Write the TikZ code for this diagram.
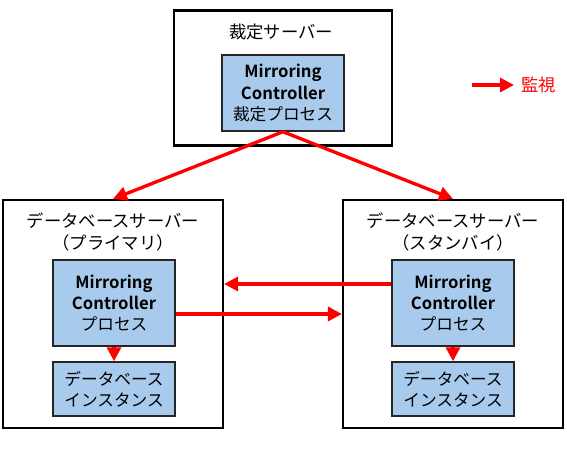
\documentclass[tikz,border=0pt]{standalone}
\usepackage{fontspec}
\setmainfont{Noto Sans CJK JP}
\newfontfamily\jpbold{Noto Sans CJK JP Bold}
\usetikzlibrary{arrows.meta}
\definecolor{procblue}{RGB}{168,202,236}
\definecolor{monred}{RGB}{255,0,0}
\tikzset{
  server/.style={draw=black, line width=1.6pt, fill=white, inner sep=0pt},
  proc/.style={draw=black!85, line width=1.1pt, fill=procblue, inner sep=0pt, align=center, font=\fontsize{12.5}{15.8}\selectfont},
  lbl/.style={align=center, font=\fontsize{13}{16}\selectfont, inner sep=0pt},
  mon/.style={draw=monred, line width=2.5pt, -{Triangle[length=10.5pt,width=10.5pt]}},
}
\begin{document}
\begin{tikzpicture}[x=0.75pt,y=-0.75pt]
\useasboundingbox (0,0) rectangle (567,452);
% servers
\node[server, minimum width=218*0.75pt, minimum height=135*0.75pt] (arb) at (283,78) {};
\node[server, minimum width=220*0.75pt, minimum height=228*0.75pt] (prim) at (113,314) {};
\node[server, minimum width=220*0.75pt, minimum height=228*0.75pt] (stby) at (453,314) {};
% titles
\node[lbl] (arbt) at (281,32) {裁定サーバー};
\node[lbl] (primt) at (113,232) {データベースサーバー\\（プライマリ）};
\node[lbl] (stbyt) at (453,232) {データベースサーバー\\（スタンバイ）};
% processes
\node[proc, minimum width=122*0.75pt, minimum height=76*0.75pt] (arbp) at (283,93) {{\jpbold Mirroring}\\{\jpbold Controller}\\裁定プロセス};
\node[proc, minimum width=122*0.75pt, minimum height=86*0.75pt] (primp) at (114,303) {{\jpbold Mirroring}\\{\jpbold Controller}\\プロセス};
\node[proc, minimum width=122*0.75pt, minimum height=86*0.75pt] (stbyp) at (453,303) {{\jpbold Mirroring}\\{\jpbold Controller}\\プロセス};
\node[proc, minimum width=122*0.75pt, minimum height=54*0.75pt] (primi) at (114,389) {データベース\\インスタンス};
\node[proc, minimum width=122*0.75pt, minimum height=54*0.75pt] (stbyi) at (453,389) {データベース\\インスタンス};
% monitoring arrows
\coordinate (arbs) at (arbp.south);
\draw[mon] (arbs) -- (prim.north);
\draw[mon] (arbs) -- (stby.north);
\draw[mon] (stbyp.west |- 0,284) -- (prim.east |- 0,284);
\draw[mon] (primp.east |- 0,314) -- (stby.west |- 0,314);
\draw[mon] (primp.south) -- (primi.north);
\draw[mon] (stbyp.south) -- (stbyi.north);
% legend
\coordinate (lga) at (472,85);
\node[lbl, text=monred, anchor=west] (lgt) at (521,85) {監視};
\draw[mon, shorten >=7*0.75pt] (lga) -- (lgt.west);
\end{tikzpicture}
\end{document}
